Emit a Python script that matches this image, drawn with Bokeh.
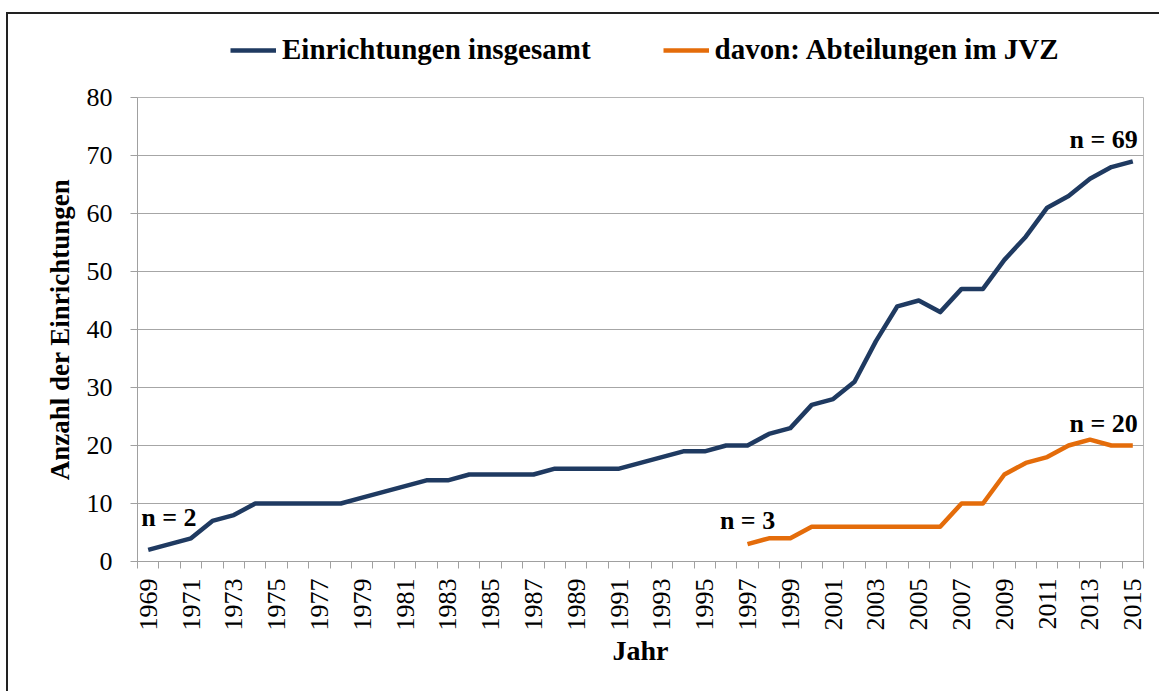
import math
from bokeh.plotting import figure
from bokeh.layouts import column
from bokeh.models import (Range1d, FixedTicker, Legend, LegendItem,
                          ColumnDataSource)
from bokeh.core.properties import value
from bokeh.embed import file_html
from bokeh.resources import INLINE

# ---------------- data ----------------
years = list(range(1969, 2016))
total = [2, 3, 4, 7, 8, 10, 10, 10, 10, 10, 11, 12, 13, 14, 14, 15, 15, 15, 15,
         16, 16, 16, 16, 17, 18, 19, 19, 20, 20, 22, 23, 27, 28, 31, 38, 44, 45,
         43, 47, 47, 52, 56, 61, 63, 66, 68, 69]
dept_years = list(range(1997, 2016))
dept = [3, 4, 4, 6, 6, 6, 6, 6, 6, 6, 10, 10, 15, 17, 18, 20, 21, 20, 20]
series_names = ["Einrichtungen insgesamt", "davon: Abteilungen im JVZ"]
y_ticks = list(range(0, 90, 10))
x_label_years = [y for y in years if y % 2 == 1]

BLUE = "#1F3A61"
ORANGE = "#E46C0A"
SERIF = "Liberation Serif"
LW = 4.5

p = figure(width=1151, height=617, output_backend="svg", toolbar_location=None,
           x_range=Range1d(years[0] - 0.5, years[-1] + 0.5),
           y_range=Range1d(0, 80),
           min_border_left=129, min_border_right=16,
           min_border_top=23, min_border_bottom=130)

p.background_fill_color = "white"
p.border_fill_color = "white"
p.outline_line_color = "#B4B4B4"
p.outline_line_width = 1

r1 = p.line(years, total, line_color=BLUE, line_width=LW, line_join="round")
r2 = p.line(dept_years, dept, line_color=ORANGE, line_width=LW, line_join="round")

# x axis
xa = p.xaxis[0]
xa.ticker = FixedTicker(ticks=x_label_years,
                        minor_ticks=[y - 0.5 for y in years] + [years[-1] + 0.5])
xa.major_tick_out = 0
xa.major_tick_in = 0
xa.minor_tick_out = 7
xa.minor_tick_in = 0
xa.minor_tick_line_color = "#A0A0A0"
xa.axis_line_color = "#A0A0A0"
xa.major_label_orientation = math.pi / 2
xa.major_label_text_font = SERIF
xa.major_label_text_font_size = "26px"
xa.major_label_text_color = "black"
xa.major_label_standoff = 10
xa.axis_label = "Jahr"
xa.axis_label_text_font = SERIF
xa.axis_label_text_font_style = "bold"
xa.axis_label_text_font_size = "28px"
xa.axis_label_text_color = "black"
xa.axis_label_standoff = 1

# y axis
ya = p.yaxis[0]
ya.ticker = FixedTicker(ticks=y_ticks)
ya.major_tick_out = 7
ya.major_tick_in = 0
ya.minor_tick_out = 0
ya.minor_tick_in = 0
ya.major_tick_line_color = "#A0A0A0"
ya.axis_line_color = "#A0A0A0"
ya.major_label_text_font = SERIF
ya.major_label_text_font_size = "26px"
ya.major_label_text_color = "black"
ya.major_label_standoff = 18
ya.axis_label = "Anzahl der Einrichtungen"
ya.axis_label_text_font = SERIF
ya.axis_label_text_font_style = "bold"
ya.axis_label_text_font_size = "27px"
ya.axis_label_text_color = "black"
ya.axis_label_standoff = 9

p.xgrid.grid_line_color = None
p.ygrid.ticker = FixedTicker(ticks=y_ticks)
p.ygrid.grid_line_color = "#A6A6A6"
p.ygrid.grid_line_width = 1

# n annotations anchored at first/last points of each series
ann = ColumnDataSource(dict(
    x=[years[0], dept_years[0], years[-1], dept_years[-1]],
    y=[total[0], dept[0], total[-1], dept[-1]],
    text=[f"n = {total[0]}", f"n = {dept[0]}", f"n = {total[-1]}", f"n = {dept[-1]}"],
    align=["left", "center", "right", "right"],
    dx=[-7, 0, 5, 5],
    dy=[-32, -24, -22, -22],
))
p.text(x="x", y="y", text="text", source=ann, text_align="align",
       text_baseline="alphabetic", x_offset="dx", y_offset="dy",
       text_font=value(SERIF), text_font_style="bold", text_font_size="26px",
       text_color="black")

# ---------------- legend strip above the chart ----------------
lg = figure(width=1151, height=60, output_backend="svg", toolbar_location=None,
            x_axis_type=None, y_axis_type=None,
            x_range=Range1d(0, 1), y_range=Range1d(0, 1),
            min_border_left=129, min_border_right=16,
            min_border_top=0, min_border_bottom=0)
lg.outline_line_color = None
lg.grid.visible = False
nan = float("nan")
lr1 = lg.line([nan], [nan], line_color=BLUE, line_width=LW)
lr2 = lg.line([nan], [nan], line_color=ORANGE, line_width=LW)

legend = Legend(items=[LegendItem(label=series_names[0], renderers=[lr1]),
                       LegendItem(label=series_names[1], renderers=[lr2])],
                orientation="horizontal", location=(93, 8))
legend.glyph_width = 46
legend.glyph_height = 26
legend.label_standoff = 6
legend.spacing = 72
legend.padding = 0
legend.margin = 0
legend.border_line_color = None
legend.background_fill_alpha = 0
legend.label_text_font = SERIF
legend.label_text_font_style = "bold"
legend.label_text_font_size = "29px"
legend.label_text_color = "black"
legend.label_height = 26
lg.add_layout(legend, "center")

page = column(lg, p, spacing=0, margin=(12, 0, 0, 6),
              styles={"border-top": "2px solid #222", "border-left": "2px solid #222"})

open("out.html", "w").write(file_html(page, INLINE))
